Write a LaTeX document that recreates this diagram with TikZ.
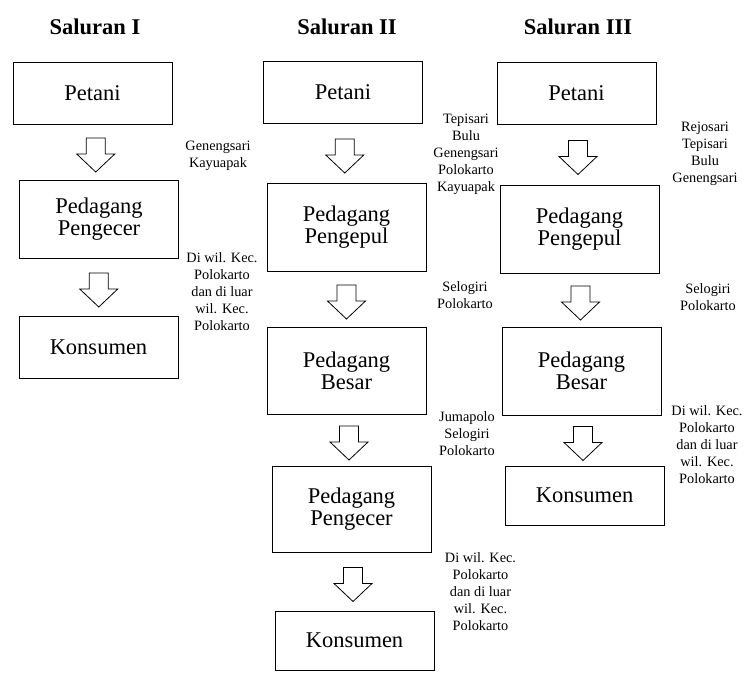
\documentclass[tikz,border=0pt]{standalone}
\usepackage{fontspec}
\setmainfont{Liberation Serif}
\usetikzlibrary{calc}
\newcommand{\blockarrow}[2]{%
  \coordinate (m#1#2) at ($(#1.south)!0.5!(#2.north)+(0,3)$);
  \draw[barrow] (m#1#2) ++(-9.5,-17) -- ++(19,0) -- ++(0,16) -- ++(9.5,0)
     -- ++(-19,18) -- ++(-19,-18) -- ++(9.5,0) -- cycle;}
\begin{document}
\begin{tikzpicture}[x=1pt,y=-1pt,
  box/.style={draw, line width=0.9pt, minimum width=159pt, align=center,
    font=\fontsize{22.5}{22}\selectfont, inner sep=0pt},
  lbl/.style={align=center, font=\fontsize{14.3}{17}\selectfont, inner sep=0pt},
  ttl/.style={font=\fontsize{22.5}{22}\selectfont\bfseries, inner sep=0pt},
  barrow/.style={draw, line width=0.8pt, line join=miter}]
\useasboundingbox (0,0) rectangle (747,675);
% titles
\node[ttl] (t1) at (95,27) {Saluran I};
\node[ttl] (t2) at (347,27) {Saluran II};
\node[ttl] (t3) at (578,27) {Saluran III};
% column I
\node[box, minimum height=62pt] (p1) at (92.5,93) {Petani};
\node[box, minimum height=78pt] (r1) at (99,219) {Pedagang\\Pengecer};
\node[box, minimum height=62pt] (k1) at (98.5,347) {Konsumen};
% column II
\node[box, minimum height=62pt] (p2) at (343,92) {Petani};
\node[box, minimum height=88pt] (g2) at (346.5,227) {Pedagang\\Pengepul};
\node[box, minimum height=87pt] (b2) at (346.5,370.5) {Pedagang\\Besar};
\node[box, minimum height=86pt] (r2) at (351.5,509) {Pedagang\\Pengecer};
\node[box, minimum height=59pt] (k2) at (354.5,640.5) {Konsumen};
% column III
\node[box, minimum height=62pt] (p3) at (576.5,93) {Petani};
\node[box, minimum height=88pt] (g3) at (579.5,229) {Pedagang\\Pengepul};
\node[box, minimum height=88pt] (b3) at (581.5,371) {Pedagang\\Besar};
\node[box, minimum height=59pt] (k3) at (584.5,495.5) {Konsumen};
% arrows
\blockarrow{p1}{r1}
\blockarrow{r1}{k1}
\blockarrow{p2}{g2}
\blockarrow{g2}{b2}
\blockarrow{b2}{r2}
\blockarrow{r2}{k2}
\blockarrow{p3}{g3}
\blockarrow{g3}{b3}
\blockarrow{b3}{k3}
% labels
\node[lbl] (l1a) at (218,156) {Genengsari\\Kayuapak};
\node[lbl] (l1b) at (222,292) {Di wil. Kec.\\Polokarto\\dan di luar\\wil. Kec.\\Polokarto};
\node[lbl] (l2a) at (466,154) {Tepisari\\Bulu\\Genengsari\\Polokarto\\Kayuapak};
\node[lbl] (l2b) at (465,295) {Selogiri\\Polokarto};
\node[lbl] (l2c) at (467,434) {Jumapolo\\Selogiri\\Polokarto};
\node[lbl] (l2d) at (480.5,592) {Di wil. Kec.\\Polokarto\\dan di luar\\wil. Kec.\\Polokarto};
\node[lbl] (l3a) at (705,153.5) {Rejosari\\Tepisari\\Bulu\\Genengsari};
\node[lbl] (l3b) at (708,297) {Selogiri\\Polokarto};
\node[lbl] (l3c) at (707,445) {Di wil. Kec.\\Polokarto\\dan di luar\\wil. Kec.\\Polokarto};
\end{tikzpicture}
\end{document}
